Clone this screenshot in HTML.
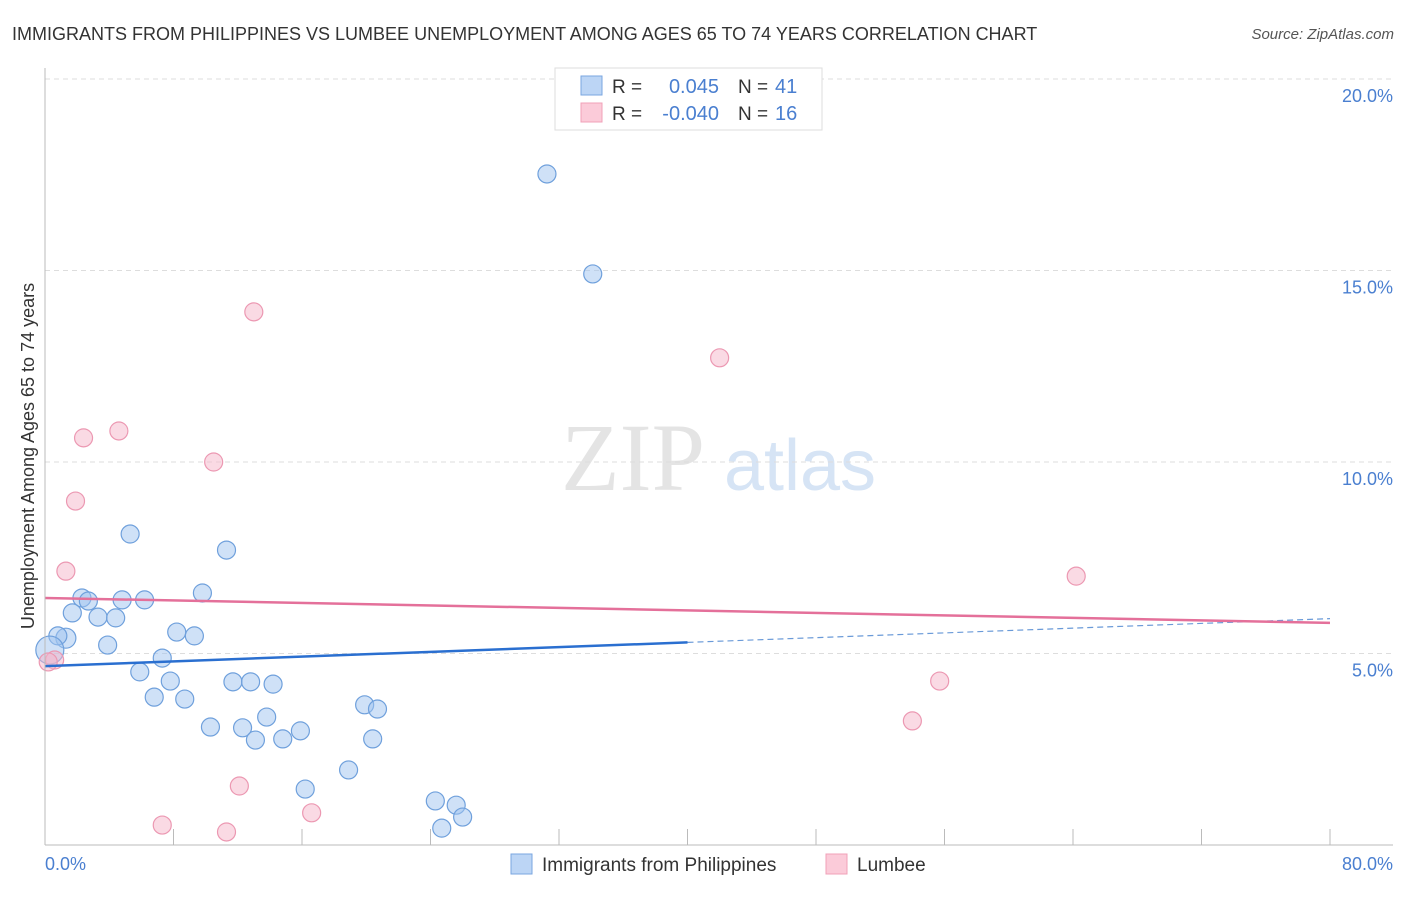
<!DOCTYPE html>
<html><head><meta charset="utf-8"><style>
body{margin:0;background:#fff;width:1406px;height:892px;overflow:hidden;font-family:"Liberation Sans",sans-serif;}
</style></head><body>
<svg width="1406" height="892" id="chart">
<text x="12" y="40" font-size="18" fill="#333">IMMIGRANTS FROM PHILIPPINES VS LUMBEE UNEMPLOYMENT AMONG AGES 65 TO 74 YEARS CORRELATION CHART</text>
<text x="1394" y="39" font-size="15" fill="#555" font-style="italic" text-anchor="end">Source: ZipAtlas.com</text>
<text x="633" y="490" font-size="96" fill="#e4e4e4" font-family="Liberation Serif,serif" text-anchor="middle">ZIP</text>
<text x="800" y="490" font-size="72" fill="#d6e4f5" text-anchor="middle">atlas</text>
<text transform="translate(34,456) rotate(-90)" font-size="18" fill="#333" text-anchor="middle">Unemployment Among Ages 65 to 74 years</text>
<g id="grid"></g><g id="marks"></g>
<line x1="45" y1="68" x2="45" y2="845" stroke="#bbb"/>
<line x1="45" y1="845" x2="1393" y2="845" stroke="#bbb"/>
<text x="45" y="870" font-size="18" fill="#4a7fd0">0.0%</text>
<text x="1393" y="870" font-size="18" fill="#4a7fd0" text-anchor="end">80.0%</text>
<g>
<rect x="555" y="68" width="267" height="62" fill="#fff" stroke="#ddd"/>
<rect x="581" y="76" width="21" height="19" fill="#bcd5f5" stroke="#7aa6e0"/>
<rect x="581" y="103" width="21" height="19" fill="#fbcbd9" stroke="#f0a0b8"/>
<text x="612" y="93" font-size="19" fill="#333">R = </text><text x="719" y="93" font-size="20" fill="#4a7fd0" text-anchor="end">0.045</text>
<text x="738" y="93" font-size="19" fill="#333">N = </text><text x="775" y="93" font-size="20" fill="#4a7fd0">41</text>
<text x="612" y="120" font-size="19" fill="#333">R = </text><text x="719" y="120" font-size="20" fill="#4a7fd0" text-anchor="end">-0.040</text>
<text x="738" y="120" font-size="19" fill="#333">N = </text><text x="775" y="120" font-size="20" fill="#4a7fd0">16</text>
</g>
<g>
<rect x="511" y="854" width="21" height="20" fill="#bcd5f5" stroke="#7aa6e0"/>
<text x="542" y="871" font-size="19" fill="#333">Immigrants from Philippines</text>
<rect x="826" y="854" width="21" height="20" fill="#fbcbd9" stroke="#f0a0b8"/>
<text x="857" y="871" font-size="19" fill="#333">Lumbee</text>
</g>
</svg>
<script>
const yTicks=[5,10,15,20];
const yTickLabels=["5.0%","10.0%","15.0%","20.0%"];
const xTicks=[0,8,16,24,32,40,48,56,64,72,80];
const blueX=[31.25,34.1,5.3,11.3,9.8,2.3,2.7,4.8,6.2,1.7,3.3,4.4,1.3,0.8,8.2,9.3,3.9,7.3,0.3,5.9,7.8,11.7,12.8,14.2,6.8,8.7,13.8,19.9,20.7,10.3,12.3,15.9,13.1,14.8,20.4,18.9,16.2,24.3,25.6,26.0,24.7];
const blueY=[17.52,14.91,8.12,7.70,6.58,6.45,6.37,6.40,6.40,6.06,5.95,5.93,5.40,5.46,5.56,5.46,5.22,4.88,5.09,4.52,4.28,4.26,4.26,4.20,3.86,3.81,3.34,3.66,3.55,3.08,3.06,2.98,2.74,2.77,2.77,1.96,1.46,1.15,1.04,0.73,0.44];
const pinkX=[13.0,42.0,4.6,2.4,10.5,1.9,1.3,64.2,55.7,54.0,12.1,7.3,11.3,16.6,0.6,0.2];
const pinkY=[13.92,12.72,10.81,10.63,10.0,8.98,7.15,7.02,4.28,3.24,1.54,0.52,0.34,0.84,4.83,4.78];
const blueTrend=[4.67,5.91];
const pinkTrend=[6.45,5.80];
const sx=v=>45+v*(1285/80), sy=v=>845-v*38.3;
const NS="http://www.w3.org/2000/svg";
const grid=document.getElementById('grid'), marks=document.getElementById('marks');
function mk(tag,attrs,parent){const e=document.createElementNS(NS,tag);for(const k in attrs)e.setAttribute(k,attrs[k]);parent.appendChild(e);return e;}
yTicks.forEach((t,i)=>{
 const l=mk('line',{x1:45,x2:1393,y1:sy(t),y2:sy(t),stroke:'#ddd','stroke-dasharray':'5,4'},grid);
 
 
 const tx=mk('text',{x:1393,y:sy(t)+23,'font-size':18,fill:'#4a7fd0','text-anchor':'end'},grid);
 tx.textContent=yTickLabels[i];
 
 
});
xTicks.forEach(t=>{
 const l=mk('line',{x1:sx(t),x2:sx(t),y1:829,y2:845,stroke:'#bbb'},grid);
 
 
});
blueX.forEach((x,i)=>{
 const c=mk('circle',{cx:sx(x),cy:sy(blueY[i]),r:(i==18?14:(i==12?10:9)),fill:'rgba(160,196,240,0.5)',stroke:'#6fa0dc','stroke-width':1.2},marks);
 
 
});
pinkX.forEach((x,i)=>{
 const c=mk('circle',{cx:sx(x),cy:sy(pinkY[i]),r:9,fill:'rgba(246,182,202,0.5)',stroke:'#ec98b2','stroke-width':1.2},marks);
 
 
});
const bMid=blueTrend[0]+(blueTrend[1]-blueTrend[0])*0.5;
const b1=mk('line',{x1:sx(0),y1:sy(blueTrend[0]),x2:sx(40),y2:sy(bMid),stroke:'#2a6fd0','stroke-width':2.5},marks);


const b2=mk('line',{x1:sx(40),y1:sy(bMid),x2:sx(80),y2:sy(blueTrend[1]),stroke:'#6a9ad8','stroke-width':1.2,'stroke-dasharray':'6,4'},marks);


const p1=mk('line',{x1:sx(0),y1:sy(pinkTrend[0]),x2:sx(80),y2:sy(pinkTrend[1]),stroke:'#e4709a','stroke-width':2.5},marks);


</script>
</body></html>
